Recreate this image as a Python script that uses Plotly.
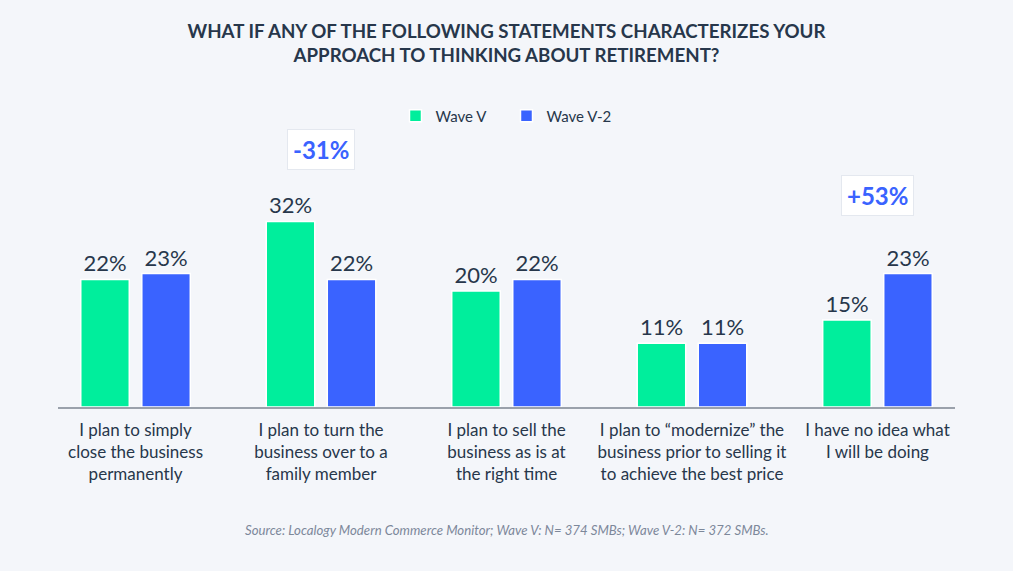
import plotly.graph_objects as go

categories = [
    "I plan to simply<br>close the business<br>permanently",
    "I plan to turn the<br>business over to a<br>family member",
    "I plan to sell the<br>business as is at<br>the right time",
    "I plan to “modernize” the<br>business prior to selling it<br>to achieve the best price",
    "I have no idea what<br>I will be doing",
]
wave_v = [22, 32, 20, 11, 15]
wave_v2 = [23, 22, 22, 11, 23]
series_names = ["Wave V", "Wave V-2"]
highlight_idx = [1, 4]

GREEN = "#00EE9C"
BLUE = "#3A63FF"
DARK = "#27374B"
BG = "#F4F6FA"
FONT = "Lato"

x = list(range(len(categories)))

fig = go.Figure()
for name, vals, col in [(series_names[0], wave_v, GREEN), (series_names[1], wave_v2, BLUE)]:
    fig.add_trace(go.Bar(
        x=x, y=vals, name=name,
        marker=dict(color=col, line=dict(color="white", width=1.5)),
        text=[f"{v}%" for v in vals],
        textposition="outside",
        textfont=dict(size=22, color=DARK, family=FONT),
        cliponaxis=False,
        hoverinfo="skip",
    ))

ann_y = {1: 1.11, 4: 0.9125}
annotations = []
for i in highlight_idx:
    ch = round((wave_v2[i] / wave_v[i] - 1) * 100)
    annotations.append(dict(
        x=i, y=ann_y[i], xref="x", yref="paper",
        text=f"<b>{ch:+d}%</b>", showarrow=False,
        font=dict(size=24, color=BLUE, family=FONT),
        bgcolor="white", bordercolor="#E4E8EF", borderwidth=1, borderpad=5,
        xanchor="center", yanchor="middle",
    ))
annotations.append(dict(
    x=0.5, y=-0.53, xref="paper", yref="paper",
    text="<i>Source: Localogy Modern Commerce Monitor; Wave V: N= 374 SMBs; Wave V-2: N= 372 SMBs.</i>",
    showarrow=False, font=dict(size=13.2, color="#7D889A", family=FONT),
    xanchor="center", yanchor="middle",
))

fig.update_layout(
    width=1013, height=571,
    paper_bgcolor=BG, plot_bgcolor=BG,
    margin=dict(l=58, r=58, t=175, b=164),
    barmode="group", bargap=0.342, bargroupgap=0.205,
    title=dict(
        text="<b>WHAT IF ANY OF THE FOLLOWING STATEMENTS CHARACTERIZES YOUR<br>APPROACH TO THINKING ABOUT RETIREMENT?</b>",
        x=0.5, xanchor="center", y=1 - 38 / 571, yanchor="middle", yref="container",
        font=dict(size=18.7, color=DARK, family=FONT),
    ),
    legend=dict(
        orientation="h", x=0.5, xanchor="center", y=1.254, yanchor="middle",
        font=dict(size=15, color=DARK, family=FONT),
        itemwidth=30, entrywidth=66, bgcolor="rgba(0,0,0,0)",
    ),
    xaxis=dict(
        tickmode="array", tickvals=x, ticktext=categories,
        range=[-0.418, 4.418], showgrid=False, zeroline=False,
        showline=True, linecolor="#9AA1AB", linewidth=1.5,
        ticks="", ticklabelstandoff=7,
        tickfont=dict(size=17, color=DARK, family=FONT),
    ),
    yaxis=dict(range=[0, 40], visible=False, showgrid=False, zeroline=False),
    annotations=annotations,
    showlegend=True,
)

fig.write_html(
    "out.html",
    config={"displayModeBar": False},
    post_script="document.body.style.margin='0';",
)
